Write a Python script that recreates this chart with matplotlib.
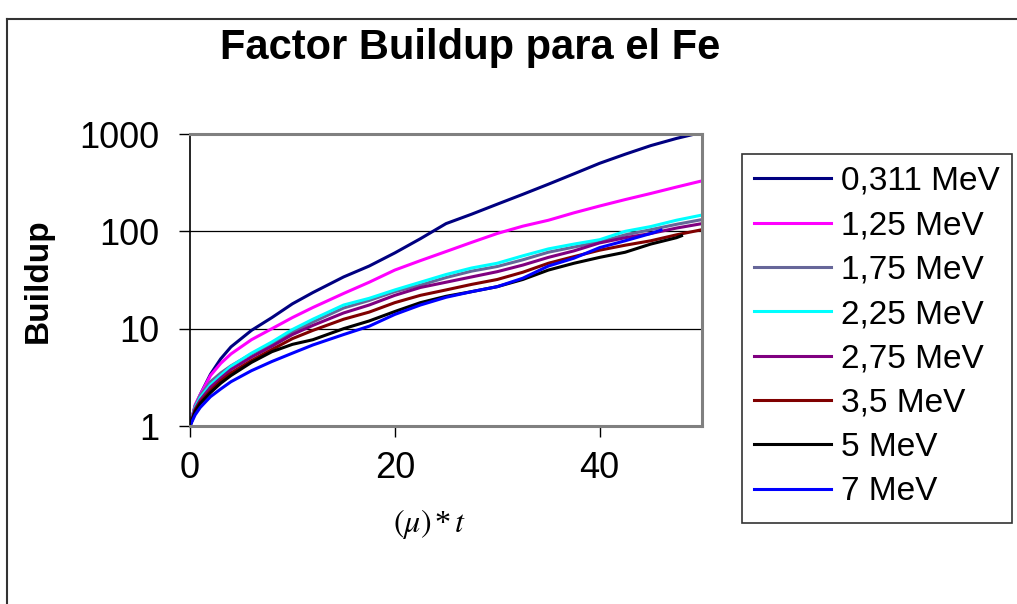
import matplotlib
matplotlib.use("Agg")
import matplotlib.pyplot as plt
from matplotlib.patches import Rectangle
from matplotlib.lines import Line2D
from matplotlib.ticker import NullLocator

plt.rcParams["font.family"] = ["Liberation Sans", "DejaVu Sans"]
plt.rcParams["mathtext.fontset"] = "stix"

# ---- data ------------------------------------------------------------------
X = [0, 0.5, 1, 2, 3, 4, 6, 8, 10, 12, 15, 17.5, 20, 22.5, 25, 27.5,
     30, 32.5, 35, 37.5, 40, 42.5, 45, 47.5, 50]

B_0311 = [1, 1.6, 2.1, 3.4, 4.9, 6.5, 9.6, 13, 18, 23.5, 34, 44, 60, 84, 120,
          150, 190, 240, 305, 390, 500, 620, 760, 900, 1040]
B_125 = [1, 1.65, 2.1, 3.3, 4.4, 5.5, 7.7, 10, 13, 16.5, 23, 30, 40, 50, 62,
         77, 95, 113, 130, 155, 182, 212, 245, 285, 330]
B_175 = [1, 1.6, 2.05, 2.85, 3.5, 4.15, 5.5, 7.0, 9.2, 11.7, 16.3, 19.5, 24,
         28, 33.5, 39, 43.5, 51, 61, 69, 78, 92, 104, 118, 132]
B_225 = [1, 1.55, 1.95, 2.65, 3.3, 4.1, 5.6, 7.3, 9.8, 12.5, 17.5, 20.5, 25,
         30, 36, 42, 47, 56, 66, 74, 82, 100, 112, 130, 147]
B_275 = [1, 1.5, 1.85, 2.5, 3.1, 3.8, 5.1, 6.6, 8.7, 10.8, 14.5, 17.5, 22,
         26.5, 30, 34, 38.5, 45, 54, 63, 76, 86, 95, 108, 120]
B_35 = [1, 1.45, 1.75, 2.3, 2.9, 3.5, 4.7, 6.1, 7.9, 9.6, 12.5, 14.8, 18.5,
        22, 25, 28.5, 32, 38, 47, 55, 64, 72, 80, 92, 104]

X_5 = [0, 0.5, 1, 2, 3, 4, 6, 8, 10, 12, 15, 17.5, 20, 22.5, 25, 27.5,
       30, 32.5, 35, 37.5, 40, 42.5, 45, 47.5, 48]
B_5 = [1, 1.4, 1.7, 2.2, 2.75, 3.3, 4.5, 5.8, 6.9, 7.7, 10, 12, 15, 18.5,
       21.5, 24, 27, 32, 40, 47, 54, 61, 74, 86, 90]

X_7 = [0, 0.5, 1, 2, 3, 4, 6, 8, 10, 12, 15, 17.5, 20, 22.5, 25, 27.5,
       30, 32.5, 35, 37.5, 40, 42.5, 45, 46]
B_7 = [1, 1.3, 1.55, 2.0, 2.4, 2.85, 3.7, 4.6, 5.6, 6.8, 8.7, 10.6, 14, 17.5,
       21, 24, 27, 33, 44, 53, 68, 80, 95, 103]

LABELS = ["0,311 MeV", "1,25 MeV", "1,75 MeV", "2,25 MeV",
          "2,75 MeV", "3,5 MeV", "5 MeV", "7 MeV"]
COLORS = ["#000080", "#FF00FF", "#666699", "#00FFFF",
          "#800080", "#800000", "#000000", "#0000FF"]
SERIES = [(X, B_0311), (X, B_125), (X, B_175), (X, B_225),
          (X, B_275), (X, B_35), (X_5, B_5), (X_7, B_7)]

W, H = 1017, 604


def fx(px):
    return px / W


def fy(py):
    return 1 - py / H


fig = plt.figure(figsize=(W / 100, H / 100), dpi=100)

# chart area border (only top and left visible)
fig.add_artist(Line2D([fx(7), 1], [fy(19), fy(19)], color="#333333", lw=1.5))
fig.add_artist(Line2D([fx(7), fx(7)], [fy(19), 0], color="#333333", lw=1.5))

ax = fig.add_axes([fx(190), fy(426), fx(702) - fx(190), fy(134) - fy(426)])

lines = []
for (xs, ys), lab, col in zip(SERIES, LABELS, COLORS):
    (ln,) = ax.plot(xs, ys, color=col, lw=2.2, label=lab, solid_joinstyle="round")
    lines.append(ln)

ax.set_yscale("log")
ax.set_xlim(0, 50)
ax.set_ylim(1, 1000)
ax.set_yticks([1, 10, 100, 1000])
ax.set_yticklabels(["1", "10", "100", "1000"])
ax.yaxis.set_minor_locator(NullLocator())
ax.set_xticks([0, 20, 40])
ax.grid(True, axis="y", which="major", color="black", lw=0.9)
ax.set_axisbelow(True)

for side in ("top", "right", "bottom"):
    ax.spines[side].set_color("#808080")
    ax.spines[side].set_linewidth(2.2)
ax.spines["left"].set_color("black")
ax.spines["left"].set_linewidth(1.2)

ax.tick_params(axis="both", direction="out", length=8, width=1, labelsize=26, colors="black")
ax.tick_params(axis="y", pad=14)
ax.tick_params(axis="x", pad=10)

# texts
fig.text(fx(470), fy(48), "Factor Buildup para el Fe", ha="center", va="center",
         fontsize=30, fontweight="bold")
fig.text(fx(38), fy(281), "Buildup", ha="center", va="center", rotation=90,
         fontsize=24, fontweight="bold")
fig.text(fx(430), fy(524), r"$(\mu)\,$*$\,t$", ha="center", va="center",
         fontsize=23, family="Liberation Serif")

# legend box
fig.add_artist(Rectangle((fx(742), fy(523)), fx(1012) - fx(742), fy(154) - fy(523),
                         transform=fig.transFigure, fill=False, edgecolor="#333333", lw=1.2))
fig.legend(handles=lines, loc="upper left", bbox_to_anchor=(fx(754), fy(166)),
           frameon=False, fontsize=24, handlelength=2.3, handletextpad=0.3,
           labelspacing=0.4, borderpad=0, borderaxespad=0)

fig.savefig("out.png", dpi=100)
